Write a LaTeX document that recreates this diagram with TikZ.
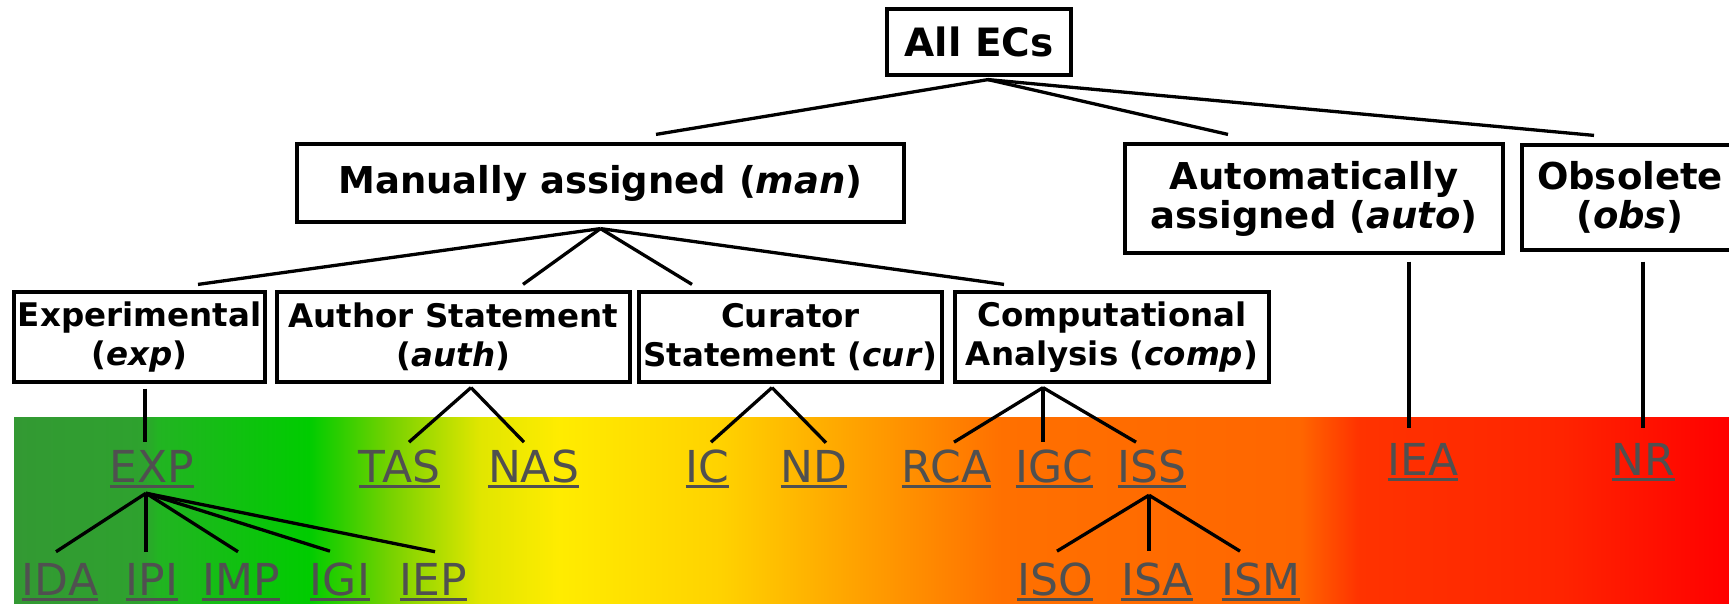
\documentclass[tikz,border=0pt]{standalone}
\usepackage{fontspec}
\setmainfont{DejaVu Sans}

\definecolor{codegray}{RGB}{80,80,80}
\definecolor{bandA}{RGB}{51,153,51}
\definecolor{bandB}{RGB}{46,162,46}
\definecolor{bandC}{RGB}{34,180,34}
\definecolor{bandD}{RGB}{0,204,0}
\definecolor{bandE}{RGB}{120,210,0}
\definecolor{bandF}{RGB}{225,230,0}
\definecolor{bandG}{RGB}{255,236,0}
\definecolor{bandH}{RGB}{255,210,0}
\definecolor{bandI}{RGB}{255,160,0}
\definecolor{bandJ}{RGB}{255,112,0}
\definecolor{bandK}{RGB}{255,102,0}
\definecolor{bandL}{RGB}{255,51,0}
\definecolor{bandM}{RGB}{255,36,0}
\definecolor{bandN}{RGB}{255,0,0}

% green -> yellow -> orange -> red band behind the codes
\pgfdeclarehorizontalshading{ecband}{100bp}{color(0bp)=(bandA); color(25bp)=(bandA);
  color(28.8bp)=(bandB); color(29.2bp)=(bandC); color(33.6bp)=(bandD);
  color(36bp)=(bandE); color(38.6bp)=(bandF); color(40.9bp)=(bandG);
  color(45.6bp)=(bandH); color(49.7bp)=(bandI); color(53.8bp)=(bandJ);
  color(62.5bp)=(bandK); color(64.2bp)=(bandL); color(70.1bp)=(bandM);
  color(75bp)=(bandN); color(100bp)=(bandN)}

% underlined evidence code
\newcommand\ecul[1]{\setbox0=\hbox{#1}\rlap{\rule[-6pt]{\wd0}{3pt}}\box0}

\begin{document}
\begin{tikzpicture}[x=1pt,y=-1pt,
    ecbox/.style={draw,line width=3.2pt,inner sep=0pt,align=center},
    lvlone/.style={ecbox,font={\fontsize{39}{41}\selectfont\bfseries}},
    lvltwo/.style={ecbox,font={\fontsize{37}{39}\selectfont\bfseries}},
    lvlthree/.style={ecbox,font={\fontsize{32.5}{39}\selectfont\bfseries}},
    code/.style={font={\fontsize{44}{44}\selectfont},text=codegray,
        inner sep=0pt,anchor=base},
    conn/.style={line width=3.3pt},
    ]
    \useasboundingbox (0,0) rectangle (1729,603);
    \clip (0,0) rectangle (1729,603);
    \fill[white] (0,0) rectangle (1729,603);

    % Colour band
    \shade[shading=ecband] (14,417) rectangle (1729,603);

    % Boxes
    \node[lvlone,minimum width=184pt,minimum height=66pt] (all) at (979,42) {All ECs};
    \node[lvltwo,minimum width=607pt,minimum height=78pt] (man) at (600.5,183)
        {Manually assigned (\textit{man})};
    \node[lvltwo,minimum width=378pt,minimum height=109pt] (auto) at (1314,198.5)
        {Automatically\\assigned (\textit{auto})};
    \node[lvltwo,minimum width=216pt,minimum height=105pt] (obs) at (1630,197.5)
        {Obsolete\\(\textit{obs})};
    \node[lvlthree,minimum width=251pt,minimum height=90pt] (exper) at (139.5,337)
        {Experimental\\(\textit{exp})};
    \node[lvlthree,minimum width=353pt,minimum height=90pt] (auth) at (453.5,337)
        {Author Statement\\(\textit{auth})};
    \node[lvlthree,minimum width=303pt,minimum height=90pt] (cur) at (790.5,337)
        {Curator\\Statement (\textit{cur})};
    \node[lvlthree,minimum width=314pt,minimum height=90pt] (comp) at (1112,337)
        {Computational\\Analysis (\textit{comp})};

    % Evidence codes
    \foreach \code/\x/\y in {EXP/152/482,TAS/399.5/482,NAS/533.5/482,
        IC/707.5/482,ND/814/482,RCA/946.5/482,IGC/1054.5/482,ISS/1152/482,
        IEA/1423/475,NR/1643.5/475,IDA/60/595,IPI/152/595,IMP/241/595,
        IGI/340/595,IEP/433.5/595,ISO/1055/595,ISA/1157/595,ISM/1261/595}
        \node[code] (\code) at (\x,\y) {\ecul{\code}};

    % All ECs
    \coordinate (allj) at ([shift={(9,3)}]all.south);
    \draw[conn] (allj) -- ([shift={(55.5,-8)}]man.north);
    \draw[conn] (allj) -- ([shift={(-86,-8)}]auto.north);
    \draw[conn] (allj) -- ([shift={(-36,-8)}]obs.north);

    % Manually assigned
    \coordinate (manj) at ([shift={(0,5)}]man.south);
    \draw[conn] (manj) -- ([shift={(58.5,-6)}]exper.north);
    \draw[conn] (manj) -- ([shift={(69.5,-6)}]auth.north);
    \draw[conn] (manj) -- ([shift={(-98.5,-6)}]cur.north);
    \draw[conn] (manj) -- ([shift={(-108,-6)}]comp.north);

    % Third level to codes
    \draw[conn] ([shift={(5.5,5)}]exper.south) -- ([shift={(-7,-8)}]EXP.north);
    \coordinate (authj) at ([shift={(17.5,4)}]auth.south);
    \draw[conn] (authj) -- ([shift={(9.5,-7)}]TAS.north);
    \draw[conn] (authj) -- ([shift={(-9.5,-7)}]NAS.north);
    \coordinate (curj) at ([shift={(-18.5,4)}]cur.south);
    \draw[conn] (curj) -- ([shift={(3.5,-7)}]IC.north);
    \draw[conn] (curj) -- ([shift={(12,-7)}]ND.north);
    \coordinate (compj) at ([shift={(-69,4)}]comp.south);
    \draw[conn] (compj) -- ([shift={(7.5,-7)}]RCA.north);
    \draw[conn] (compj) -- ([shift={(-11.5,-7)}]IGC.north);
    \draw[conn] (compj) -- ([shift={(-16,-7)}]ISS.north);
    \draw[conn] ([shift={(95,7)}]auto.south) -- ([shift={(-14,-15)}]IEA.north);
    \draw[conn] ([shift={(13,10)}]obs.south) -- ([shift={(-0.5,-15)}]NR.north);

    % Sub codes
    \coordinate (expj) at ([shift={(-6,5)}]EXP.south);
    \draw[conn] (expj) -- ([shift={(-4,-11)}]IDA.north);
    \draw[conn] (expj) -- ([shift={(-6,-11)}]IPI.north);
    \draw[conn] (expj) -- ([shift={(-3,-11)}]IMP.north);
    \draw[conn] (expj) -- ([shift={(-10,-11)}]IGI.north);
    \draw[conn] (expj) -- ([shift={(1.5,-11)}]IEP.north);
    \coordinate (issj) at ([shift={(-3,7)}]ISS.south);
    \draw[conn] (issj) -- ([shift={(2,-11)}]ISO.north);
    \draw[conn] (issj) -- ([shift={(-8,-11)}]ISA.north);
    \draw[conn] (issj) -- ([shift={(-21,-11)}]ISM.north);
\end{tikzpicture}
\end{document}
